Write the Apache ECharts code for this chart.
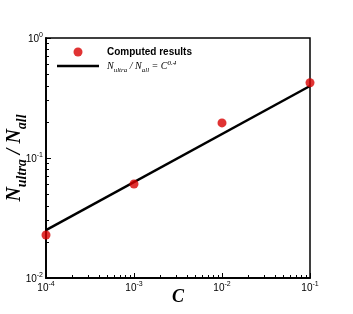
<!DOCTYPE html>
<html><head><meta charset="utf-8">
<script src="https://cdn.jsdelivr.net/npm/echarts@6/dist/echarts.min.js"></script>
<style>html,body{margin:0;padding:0;background:#fff}#c{width:353px;height:314px}</style>
</head><body><div id="c"></div>
<script>
var cValues = [1e-4, 1e-3, 1e-2, 1e-1];
var ratioValues = [0.0228, 0.0607, 0.196, 0.424];
var fitC = [1e-4, 1e-1];
var fitValues = [0.0251, 0.398];
var xMinorTicks = [2e-4,3e-4,4e-4,5e-4,6e-4,7e-4,8e-4,9e-4,2e-3,3e-3,4e-3,5e-3,6e-3,7e-3,8e-3,9e-3,2e-2,3e-2,4e-2,5e-2,6e-2,7e-2,8e-2,9e-2];
var yMinorTicks = [0.02,0.03,0.04,0.05,0.06,0.07,0.08,0.09,0.2,0.3,0.4,0.5,0.6,0.7,0.8,0.9];

var chart = echarts.init(document.getElementById('c'), null, {renderer:'canvas'});
function expLabel(v){
  var e = Math.round(Math.log(v)/Math.LN10);
  return '{b|10}{s|' + e + '}';
}
var tickRich = {
  b:{fontFamily:'Liberation Sans',fontSize:10,color:'#000',lineHeight:12,verticalAlign:'bottom'},
  s:{fontFamily:'Liberation Sans',fontSize:7,color:'#000',lineHeight:12,verticalAlign:'top',padding:[0,0,5,0]}
};
var serifBI = {fontFamily:'Liberation Serif',fontStyle:'italic',fontWeight:'bold',color:'#000'};
var option = {
  animation:false,
  grid:{left:46,top:38,width:264,height:240,show:true,borderColor:'#000',borderWidth:1.5,backgroundColor:'transparent',containLabel:false,outerBoundsMode:'none'},
  legend:{
    orient:'vertical',left:57,top:47,padding:0,itemWidth:42,itemHeight:9,itemGap:3,
    data:[{name:'Computed results',icon:'circle'},{name:'fit',icon:'path://M0,0 L42,0 L42,2.5 L0,2.5 Z'}],
    formatter:function(name){
      if(name==='fit') return '{i|N}{sub|ultra}{i| / N}{sub|all}{i| = C}{sup|0.4}';
      return '{t|Computed results}';
    },
    textStyle:{
      padding:[0,0,0,3],
      rich:{
        t:{fontFamily:'Liberation Sans',fontWeight:'bold',fontSize:10,color:'#000',lineHeight:12},
        i:{fontFamily:'Liberation Serif',fontStyle:'italic',fontSize:10,color:'#000',lineHeight:12},
        sub:{fontFamily:'Liberation Serif',fontStyle:'italic',fontSize:7,color:'#000',verticalAlign:'bottom',lineHeight:12,padding:[0,0,-2,0]},
        sup:{fontFamily:'Liberation Serif',fontStyle:'italic',fontSize:7,color:'#000',verticalAlign:'top',lineHeight:12}
      }
    }
  },
  xAxis:[{
    type:'log',logBase:10,min:1e-4,max:1e-1,
    name:'C',nameLocation:'middle',nameGap:10,nameMoveOverlap:false,
    nameTextStyle:Object.assign({fontSize:18},serifBI),
    axisLine:{lineStyle:{color:'#000',width:1.5}},
    axisTick:{inside:true,length:5,lineStyle:{color:'#000'}},
    splitLine:{show:false},
    axisLabel:{margin:3,formatter:expLabel,rich:tickRich}
  },{
    type:'log',logBase:10,min:1e-4,max:1e-1,position:'bottom',
    axisLine:{show:true,lineStyle:{color:'#000',width:1.5}},
    axisLabel:{show:false},
    splitLine:{show:false},
    axisTick:{show:true,inside:true,length:3,customValues:xMinorTicks,lineStyle:{color:'#000'}}
  }],
  yAxis:[{
    type:'log',logBase:10,min:0.01,max:1,position:'left',
    name:'{n|N}{sub|ultra}{n| / N}{sub|all}',nameLocation:'middle',nameGap:20,nameRotate:90,nameMoveOverlap:false,
    nameTextStyle:{rich:{
      n:Object.assign({fontSize:20,lineHeight:22},serifBI),
      sub:Object.assign({fontSize:14,lineHeight:22,verticalAlign:'bottom',padding:[0,0,-3,0]},serifBI)
    }},
    axisLine:{lineStyle:{color:'#000',width:1.5}},
    axisTick:{inside:true,length:5,lineStyle:{color:'#000'}},
    splitLine:{show:false},
    axisLabel:{margin:3,formatter:expLabel,rich:tickRich}
  },{
    type:'log',logBase:10,min:0.01,max:1,position:'left',
    axisLine:{show:true,lineStyle:{color:'#000',width:1.5}},
    axisLabel:{show:true,color:'rgba(0,0,0,0)',fontSize:6},
    splitLine:{show:false},
    axisTick:{show:true,inside:true,length:3,customValues:yMinorTicks,lineStyle:{color:'#000'}}
  }],
  series:[{
    name:'Computed results',type:'scatter',symbol:'circle',symbolSize:9,
    itemStyle:{color:'#d80000'},z:3,
    data:cValues.map(function(c,i){return [c, ratioValues[i]];})
  },{
    name:'fit',type:'line',symbol:'none',
    lineStyle:{color:'#000',width:2.5},itemStyle:{color:'#000'},z:2,
    data:fitC.map(function(c,i){return [c, fitValues[i]];})
  }]
};
chart.setOption(option);
</script></body></html>
